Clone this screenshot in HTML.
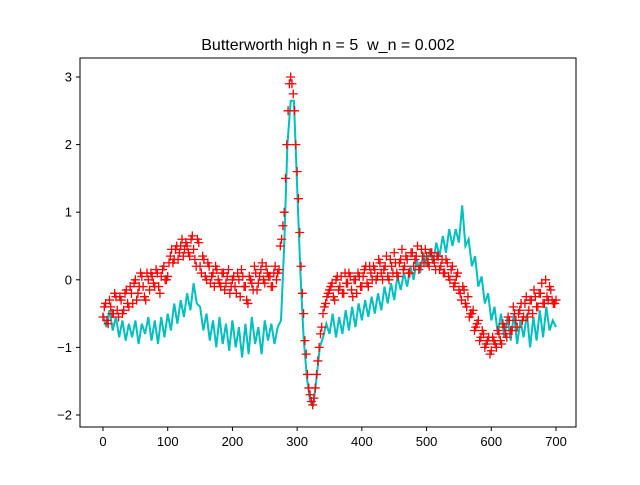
<!DOCTYPE html>
<html><head><meta charset="utf-8"><style>body{margin:0;background:#fff}svg text{font-family:"Liberation Sans","DejaVu Sans",sans-serif}</style></head>
<body>
<svg id="chart" width="640" height="480" viewBox="0 0 640 480" xmlns="http://www.w3.org/2000/svg">
<rect width="640" height="480" fill="#fff"/>
<text x="328" y="50" font-size="16" text-anchor="middle" style="white-space:pre">Butterworth high n = 5&#160; w_n = 0.002</text>
<g id="plot"></g>
<rect x="80" y="58" width="496" height="369" fill="none" stroke="#000" stroke-width="1"/>
<g id="axes"></g>
</svg>
<script>
const lineStep = 5;
const filteredValues = [-0.5,-0.7,-0.45,-0.75,-0.55,-0.85,-0.6,-0.9,-0.65,-0.85,-0.6,-0.95,-0.65,-0.8,-0.55,-0.9,-0.6,-0.95,-0.55,-0.85,-0.5,-0.75,-0.35,-0.65,-0.3,-0.55,-0.2,-0.45,-0.05,-0.35,-0.4,-0.75,-0.5,-0.9,-0.6,-1.0,-0.55,-0.95,-0.65,-1.05,-0.6,-1.0,-0.7,-1.15,-0.65,-1.1,-0.55,-0.95,-0.7,-1.1,-0.6,-0.9,-0.65,-0.95,-0.7,-0.6,0.5,2.0,2.65,2.65,1.4,0.1,-0.85,-1.45,-1.8,-1.85,-1.45,-1.0,-0.85,-0.65,-0.8,-0.5,-0.85,-0.55,-0.8,-0.45,-0.75,-0.4,-0.7,-0.35,-0.6,-0.3,-0.55,-0.25,-0.5,-0.2,-0.45,-0.1,-0.35,-0.05,-0.3,0.05,-0.15,0.1,-0.1,0.2,0.0,0.3,0.1,0.4,0.2,0.45,0.25,0.55,0.35,0.65,0.4,0.75,0.5,0.75,0.55,1.1,0.5,0.6,0.2,0.35,-0.1,0.05,-0.35,-0.2,-0.6,-0.4,-0.8,-0.5,-0.85,-0.55,-0.9,-0.5,-0.95,-0.6,-0.85,-0.5,-1.0,-0.55,-0.9,-0.45,-0.85,-0.4,-0.75,-0.6,-0.7];
const markerStep = 4;
const rawValues = [-0.55,-0.35,-0.65,-0.4,-0.5,-0.25,-0.55,-0.3,-0.45,-0.15,-0.4,-0.2,-0.05,-0.3,-0.1,0.05,-0.25,0.1,-0.15,0.05,-0.1,0.1,-0.2,0.15,0.0,0.05,0.35,0.25,0.45,0.3,0.5,0.35,0.55,0.4,0.6,0.45,0.2,0.55,0.1,0.3,0.0,0.2,0.05,-0.1,0.15,-0.05,0.1,-0.15,0.05,-0.2,0.0,-0.1,0.1,-0.25,0.05,-0.1,-0.35,0.0,-0.15,0.1,-0.05,0.15,0.0,0.2,0.05,-0.1,0.1,0.0,0.15,0.6,1.0,2.0,2.9,2.9,2.5,1.6,0.7,-0.2,-0.9,-1.4,-1.7,-1.85,-1.6,-1.2,-0.8,-0.5,-0.35,-0.2,-0.1,-0.25,0.0,-0.15,0.05,-0.2,-0.05,0.1,-0.15,0.0,-0.2,0.05,-0.1,0.15,-0.05,0.2,0.0,0.15,0.05,0.25,0.0,0.2,0.05,0.3,0.1,0.25,0.05,0.3,0.15,0.35,0.1,0.4,0.2,0.35,0.15,0.45,0.25,0.35,0.2,0.4,0.25,0.35,0.15,0.3,0.1,0.25,0.0,0.2,-0.05,0.1,-0.2,-0.1,-0.35,-0.25,-0.5,-0.45,-0.7,-0.6,-0.85,-0.8,-0.95,-0.85,-1.05,-0.9,-1.0,-0.8,-0.95,-0.7,-0.85,-0.6,-0.75,-0.5,-0.7,-0.45,-0.6,-0.35,-0.55,-0.3,-0.5,-0.25,-0.4,-0.2,-0.35,0.0,-0.3,-0.15,-0.35,-0.3];
const rawValuesB = [-0.4,-0.6,-0.3,-0.5,-0.2,-0.45,-0.25,-0.5,-0.2,-0.35,
-0.1,-0.35,0.0,-0.2,0.1,-0.1,-0.3,0.0,0.1,-0.05,0.15,-0.1,0.05,0.2,0.0,
0.25,0.45,0.3,0.5,0.4,0.6,0.45,0.5,0.35,0.65,
0.3,0.6,0.2,0.35,0.05,0.25,-0.05,0.1,0.2,0.0,-0.1,0.1,-0.05,0.15,-0.1,
0.05,-0.2,0.0,0.15,-0.1,-0.3,0.05,-0.05,0.2,-0.15,0.05,0.25,-0.05,0.1,0.05,-0.1,0.2,0.1,
0.5,0.8,1.5,2.5,3.0,2.75,2.0,1.2,0.2,-0.5,-1.1,-1.6,-1.8,-1.75,-1.4,-1.0,-0.7,-0.4,-0.25,-0.15,
-0.05,-0.3,0.05,-0.1,-0.2,0.1,-0.05,0.05,-0.25,0.0,0.1,-0.1,0.05,0.2,-0.1,0.1,0.2,
0.0,0.3,0.1,0.15,0.35,0.0,0.2,0.4,0.1,0.25,0.45,0.2,0.3,0.1,0.4,0.3,0.5,0.2,0.35,0.45,
0.25,0.4,0.3,0.15,0.35,0.2,0.1,0.3,0.05,0.15,-0.1,0.05,-0.15,
-0.3,-0.15,-0.4,-0.55,-0.5,-0.75,-0.65,-0.9,-0.75,-1.0,-0.9,-1.1,-0.85,-0.95,-0.75,-0.9,-0.65,-0.8,-0.55,-0.75,-0.4,-0.6,-0.5,-0.35,-0.55,-0.25,-0.45,-0.3,-0.15,-0.4,-0.2,-0.05,-0.35,-0.25,-0.1,-0.3,-0.35];
const xTicks = [0,100,200,300,400,500,600,700];
const yTicks = [-2,-1,0,1,2,3];

const NS = "http://www.w3.org/2000/svg";
function sx(v){ return 103 + (v-0)*(556-103)/700; }
function sy(v){ return 415 + (v+2)*(77-415)/5; }
const plot = document.getElementById('plot');
const axes = document.getElementById('axes');

let d = '';
filteredValues.forEach((v,i)=>{ d += (i?'L':'M') + sx(i*lineStep).toFixed(1) + ' ' + sy(v).toFixed(1); });
const line = document.createElementNS(NS,'path');
line.setAttribute('d', d);
line.setAttribute('fill','none');
line.setAttribute('stroke','#00bfbf');
line.setAttribute('stroke-width','2');


plot.appendChild(line);

function drawMarkers(vals, offset){
  vals.forEach((v,i)=>{
    const x = sx(offset + i*markerStep), y = sy(v), r = 4.5;
    const m = document.createElementNS(NS,'path');
    m.setAttribute('d', `M${x-r} ${y}H${x+r}M${x} ${y-r}V${y+r}`);
    m.setAttribute('stroke','#ff0000');
    m.setAttribute('stroke-width','1.3');
    
    
    plot.appendChild(m);
  });
}
drawMarkers(rawValues, 0);
drawMarkers(rawValuesB, 2);

xTicks.forEach(t=>{
  const x = sx(t);
  const tk = document.createElementNS(NS,'line');
  tk.setAttribute('x1',x); tk.setAttribute('x2',x); tk.setAttribute('y1',427); tk.setAttribute('y2',431);
  tk.setAttribute('stroke','#000');
  
  
  axes.appendChild(tk);
  const tx = document.createElementNS(NS,'text');
  tx.setAttribute('x',x); tx.setAttribute('y',446); tx.setAttribute('font-size','13'); tx.setAttribute('text-anchor','middle');
  tx.textContent = t;
  
  
  axes.appendChild(tx);
});
yTicks.forEach(t=>{
  const y = sy(t);
  const tk = document.createElementNS(NS,'line');
  tk.setAttribute('x1',76); tk.setAttribute('x2',80); tk.setAttribute('y1',y); tk.setAttribute('y2',y);
  tk.setAttribute('stroke','#000');
  
  
  axes.appendChild(tk);
  const tx = document.createElementNS(NS,'text');
  tx.setAttribute('x',72); tx.setAttribute('y',y+4.5); tx.setAttribute('font-size','13'); tx.setAttribute('text-anchor','end');
  tx.textContent = t < 0 ? '\u2212' + Math.abs(t) : t;
  
  
  axes.appendChild(tx);
});
</script>
</body></html>
